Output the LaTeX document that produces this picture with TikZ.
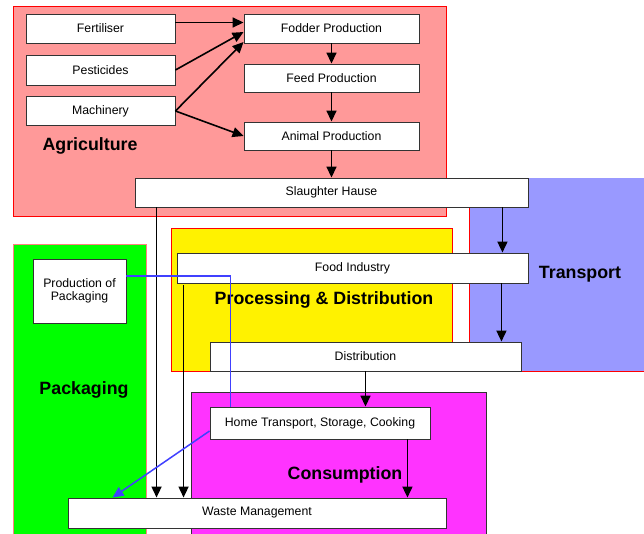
\documentclass[tikz,border=0pt]{standalone}
\usepackage{fontspec}
\setmainfont{Liberation Sans}
\usetikzlibrary{arrows.meta}

\definecolor{agripink}{HTML}{FF9999}
\definecolor{transblue}{HTML}{9999FF}
\definecolor{consmag}{HTML}{FF33FF}

\begin{document}
\begin{tikzpicture}[x=1pt,y=-1pt,
	box/.style={draw=black!80, line width=0.9pt, fill=white, inner sep=0pt, font=\fontsize{12.3}{13.5}\selectfont},
	zone/.style={font=\bfseries\fontsize{17.8}{19}\selectfont},
	arr/.style={-{Triangle[length=11pt,width=10pt]}, line width=1.6pt},
	blu/.style={blue!75, line width=1.5pt}]
\useasboundingbox (0,0) rectangle (644,534);
% coloured areas
\draw[red, fill=agripink] (13,6) rectangle (446,216);
\fill[transblue] (469,178) rectangle (644,371);
\draw[red] (469,178) -- (469,371) -- (644,371);
\draw[red, fill=yellow] (171,228) rectangle (452,371);
\fill[green] (13,244) rectangle (146,534);
\draw[red!50] (13,534) -- (13,244) -- (146,244) -- (146,534);
\draw[black!80, fill=consmag] (191,534) -- (191,392) -- (486,392) -- (486,534);
\node[zone] (agri) at (90,146) {Agriculture};
\node[zone] (trans) at (580,274) {Transport};
\node[zone] (proc) at (324,300) {Processing \& Distribution};
\node[zone] (pack) at (84,390) {Packaging};
\node[zone] (cons) at (345,475) {Consumption};
% boxes
\node[box, minimum width=149, minimum height=29] (fert) at (100.5,28.5) {Fertiliser};
\node[box, minimum width=149, minimum height=30] (pest) at (100.5,70) {Pesticides};
\node[box, minimum width=149, minimum height=29] (mach) at (100.5,111) {Machinery};
\node[box, minimum width=175, minimum height=29] (fodder) at (331.5,28.5) {Fodder Production};
\node[box, minimum width=175, minimum height=28] (feed) at (331.5,78) {Feed Production};
\node[box, minimum width=175, minimum height=28] (animal) at (331.5,136) {Animal Production};
\node[box, minimum width=393, minimum height=29] (slaughter) at (331.5,192.5) {Slaughter Hause};
\node[box, minimum width=351, minimum height=30] (food) at (352.5,268) {Food Industry};
\node[box, minimum width=311, minimum height=29] (distr) at (365.5,356.5) {Distribution};
\node[box, minimum width=220, minimum height=32] (home) at (320,423) {Home Transport, Storage, Cooking};
\node[box, minimum width=378, minimum height=30] (waste) at (257,513) {Waste Management};
\node[box, minimum width=93, minimum height=64, align=center] (prodpack) at (79.5,291) {Production of\\Packaging};
% flows
\draw[arr] ([yshift=6pt]fert.east) -- ([yshift=6pt]fodder.west);
\draw[arr] (pest.east) -- ([yshift=-3.5pt]fodder.west);
\draw[arr] (mach.east) -- ([yshift=-13.5pt]fodder.west);
\draw[arr] (mach.east) -- (animal.west);
\draw[arr] (fodder.south) -- (feed.north);
\draw[arr] (feed.south) -- (animal.north);
\draw[arr] (animal.south) -- (animal.south |- slaughter.north);
\draw[arr] ([xshift=-26pt]slaughter.south east) -- ([xshift=-26pt]slaughter.south east |- food.north);
\draw[arr] ([xshift=-27pt]food.south east) -- ([xshift=-27pt]food.south east |- distr.north);
\draw[arr] (distr.south) -- (distr.south |- home.north);
\draw[arr] ([xshift=-23pt]home.south east) -- ([xshift=-23pt]home.south east |- waste.north);
\draw[arr] ([xshift=22pt]slaughter.south west) -- ([xshift=22pt]slaughter.south west |- waste.north);
\draw[arr] ([xshift=7pt,yshift=-2pt]food.south west) -- ([xshift=7pt]food.south west |- waste.north);
% packaging
\draw[blu] ([yshift=15pt]prodpack.east) -| ([xshift=21pt]home.north west);
\draw[blu, -{Triangle[length=11pt,width=10pt]}] ([yshift=-8pt]home.west) -- ([xshift=45pt]waste.north west);
\end{tikzpicture}
\end{document}
